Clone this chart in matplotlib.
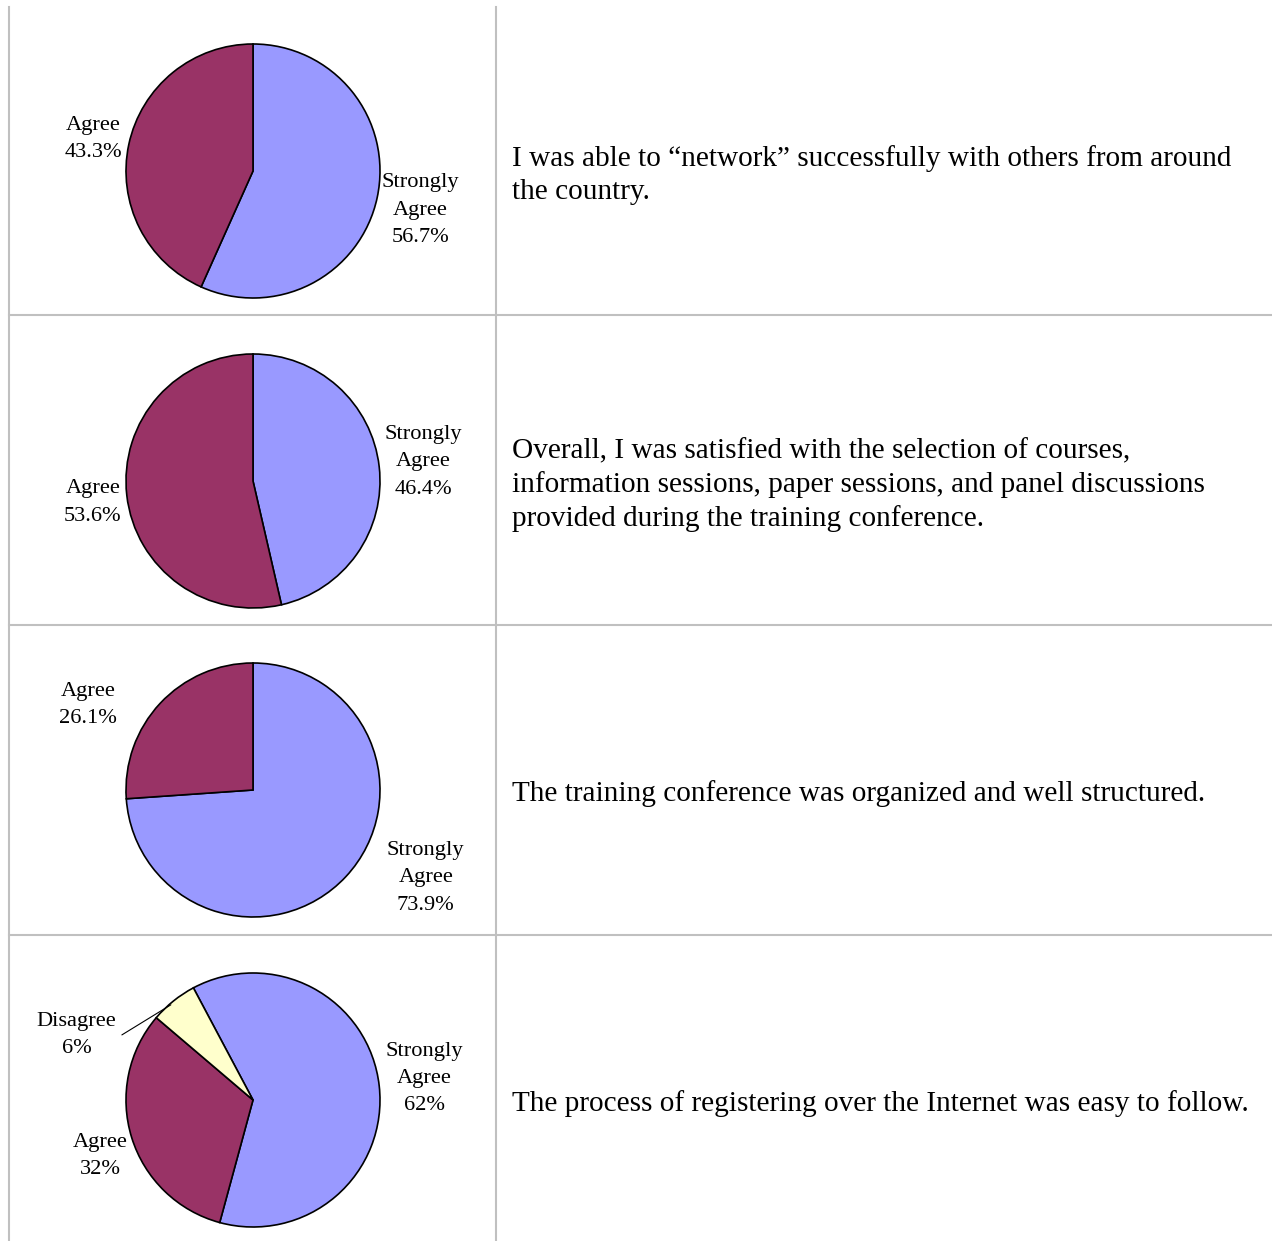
import numpy as np
import matplotlib
matplotlib.use('Agg')
import matplotlib.pyplot as plt
from matplotlib.lines import Line2D

# survey results, one pie per statement
categories = [
    ['Strongly\nAgree', 'Agree'],
    ['Strongly\nAgree', 'Agree'],
    ['Strongly\nAgree', 'Agree'],
    ['Strongly\nAgree', 'Agree', 'Disagree'],
]
values = [
    [56.7, 43.3],
    [46.4, 53.6],
    [73.9, 26.1],
    [62, 32, 6],
]
pct_fmt = ['{:.1f}%', '{:.1f}%', '{:.1f}%', '{:.0f}%']
statements = [
    'I was able to \u201cnetwork\u201d successfully with others from around\nthe country.',
    'Overall, I was satisfied with the selection of courses,\ninformation sessions, paper sessions, and panel discussions\nprovided during the training conference.',
    'The training conference was organized and well structured.',
    'The process of registering over the Internet was easy to follow.',
]

colors = {'Strongly\nAgree': '#9999ff', 'Agree': '#993366', 'Disagree': '#ffffcc'}
start_angles = [90, 90, 90, 118]

# label positions (radius units, relative to pie centre) - layout only
label_xy = [
    [(1.32, -0.31), (-1.26, 0.25)],
    [(1.34, 0.15), (-1.26, -0.17)],
    [(1.36, -0.69), (-1.30, 0.67)],
    [(1.35, 0.17), (-1.20, -0.44), (-1.39, 0.51)],
]

W, H = 1272, 1241
fig = plt.figure(figsize=(W / 100, H / 100), dpi=100)
plt.rcParams['font.family'] = ['Liberation Serif', 'DejaVu Serif']

pie_cx = 253
pie_cy = [171, 481, 790, 1100]
R = 127  # pie radius in px
ax_w, ax_h = 480, 300
lab_fs = 16.1
lab_ls = 1.6

for i in range(4):
    left = (pie_cx - ax_w / 2) / W
    bottom = 1 - (pie_cy[i] + ax_h / 2) / H
    ax = fig.add_axes([left, bottom, ax_w / W, ax_h / H])
    cols = [colors[c] for c in categories[i]]
    wedges, texts = ax.pie(values[i], colors=cols, startangle=start_angles[i],
                           counterclock=False, radius=1,
                           wedgeprops=dict(edgecolor='black', linewidth=1.2))
    ax.set_xlim(-ax_w / 2 / R, ax_w / 2 / R)
    ax.set_ylim(-ax_h / 2 / R, ax_h / 2 / R)
    ax.axis('off')
    for j, (cat, v) in enumerate(zip(categories[i], values[i])):
        label = cat + '\n' + pct_fmt[i].format(v)
        lx, ly = label_xy[i][j]
        if cat == 'Disagree':
            w = wedges[j]
            mid = np.deg2rad((w.theta1 + w.theta2) / 2 + 2)
            ax.annotate(label, xy=(0.99 * np.cos(mid), 0.99 * np.sin(mid)),
                        xytext=(lx, ly), ha='center', va='center',
                        fontsize=lab_fs, linespacing=lab_ls,
                        arrowprops=dict(arrowstyle='-', color='black', lw=0.8,
                                        shrinkA=2, shrinkB=0, relpos=(1.0, 0.5),
                                        connectionstyle='arc,angleA=0,angleB=0,armA=5,armB=0,rad=0'))
        else:
            ax.text(lx, ly, label, ha='center', va='center', fontsize=lab_fs,
                    linespacing=lab_ls, clip_on=False)

    fig.text(512 / W, 1 - (pie_cy[i] + 4) / H, statements[i], ha='left', va='center',
             fontsize=21.1, linespacing=1.32)

# table borders
grid_col = '#c0c0c0'
for x in [9, 496]:
    fig.add_artist(Line2D([x / W, x / W], [1 - 7 / H, 0], color=grid_col, lw=1.5))
for y in [315, 625, 935]:
    fig.add_artist(Line2D([9 / W, 1], [1 - y / H, 1 - y / H], color=grid_col, lw=1.5))

plt.savefig('out.png', dpi=100)
